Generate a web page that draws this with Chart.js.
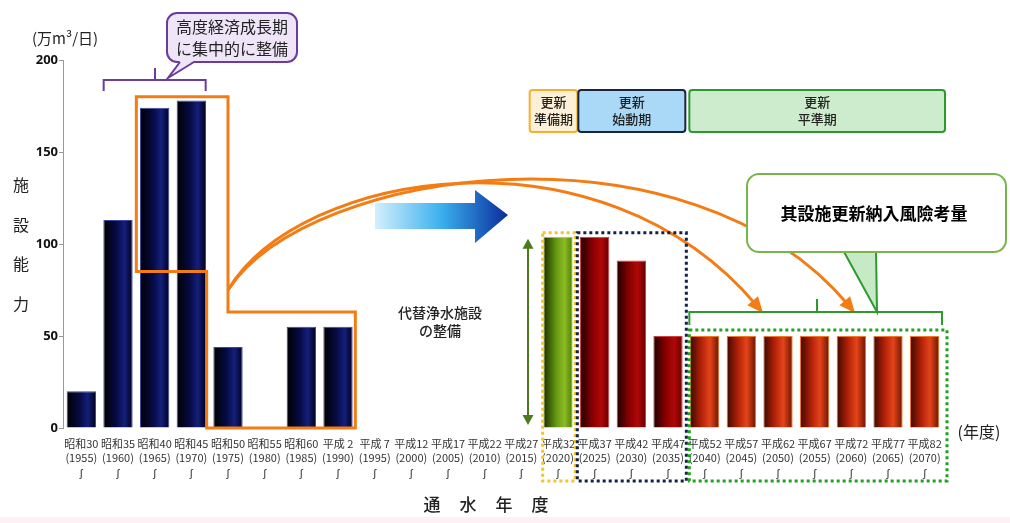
<!DOCTYPE html>
<html lang="ja">
<head>
<meta charset="utf-8">
<script src="https://cdn.jsdelivr.net/npm/chart.js@4/dist/chart.umd.min.js"></script>
<style>
  html, body { margin: 0; padding: 0; background: #ffffff; }
  #wrap { width: 1010px; height: 523px; position: relative; }
</style>
</head>
<body>
<div id="wrap"><canvas id="c" width="1010" height="523"></canvas></div>
<script>
// Era labels and calendar years for each five-year step
const eraLabels = ['昭和30','昭和35','昭和40','昭和45','昭和50','昭和55','昭和60','平成 2',
  '平成 7','平成12','平成17','平成22','平成27','平成32','平成37','平成42','平成47',
  '平成52','平成57','平成62','平成67','平成72','平成77','平成82'];
const yearLabels = ['(1955)','(1960)','(1965)','(1970)','(1975)','(1980)','(1985)','(1990)',
  '(1995)','(2000)','(2005)','(2010)','(2015)','(2020)','(2025)','(2030)','(2035)',
  '(2040)','(2045)','(2050)','(2055)','(2060)','(2065)','(2070)'];
// Facility capacity (万m³/日); null where nothing was built / renewed
const capacity = [20, 113, 174, 178, 44, null, 55, 55,
  null, null, null, null, null, 104, 104, 91, 50,
  50, 50, 50, 50, 50, 50, 50];
// Period groups: 0 = original construction, 1 = preparation, 2 = start-up, 3 = levelled renewal
const period = [0,0,0,0,0,0,0,0, 0,0,0,0,0, 1, 2,2,2, 3,3,3,3,3,3,3];
const yTicks = [0, 50, 100, 150, 200];

const tickLabels = eraLabels.map((e, i) => [e, yearLabels[i], 'ʃ']);

const palettes = {
  0: [[0, '#000000'], [0.45, '#060b44'], [0.72, '#141f7c'], [1, '#00001a']],
  1: [[0, '#1a3000'], [0.45, '#669a12'], [0.72, '#8cbc22'], [1, '#4e7c0c']],
  2: [[0, '#1a0000'], [0.42, '#880000'], [0.72, '#b00808'], [1, '#650000']],
  3: [[0, '#3c0800'], [0.38, '#b02008'], [0.68, '#e4441a'], [1, '#6a1400']]
};

function barFill(ctx) {
  const chart = ctx.chart;
  const xs = chart.scales && chart.scales.x;
  const pal = palettes[period[ctx.dataIndex]] || palettes[0];
  if (ctx.type !== 'data' || !xs || !(xs.width > 0)) return pal[1][1];
  const cx = xs.getPixelForValue(ctx.dataIndex);
  const half = (xs.width / eraLabels.length) * 0.8 / 2;
  if (!isFinite(cx) || !isFinite(half)) return pal[1][1];
  const g = chart.ctx.createLinearGradient(cx - half, 0, cx + half, 0);
  pal.forEach(s => g.addColorStop(s[0], s[1]));
  return g;
}
function barEdge(ctx) {
  const p = period[ctx.dataIndex];
  return p === 3 ? '#f07a22' : (p === 0 ? '#3a4aa0' : (p === 1 ? '#a8d040' : '#d04040'));
}

function roundRect(c, x, y, w, h, r) {
  c.beginPath();
  c.moveTo(x + r, y);
  c.arcTo(x + w, y, x + w, y + h, r);
  c.arcTo(x + w, y + h, x, y + h, r);
  c.arcTo(x, y + h, x, y, r);
  c.arcTo(x, y, x + w, y, r);
  c.closePath();
}

function arrowHead(c, x, y, fromX, fromY, len, wid, color) {
  const a = Math.atan2(y - fromY, x - fromX);
  c.save();
  c.translate(x, y);
  c.rotate(a);
  c.beginPath();
  c.moveTo(0, 0);
  c.lineTo(-len, -wid / 2);
  c.lineTo(-len, wid / 2);
  c.closePath();
  c.fillStyle = color;
  c.fill();
  c.restore();
}

// curved arrow: cubic from p0 to p3, head placed at p3 along the end tangent
function curvedArrow(c, p0, p1, p2, p3, color) {
  const a = Math.atan2(p3[1] - p2[1], p3[0] - p2[0]);
  const ex = p3[0] - Math.cos(a) * 10, ey = p3[1] - Math.sin(a) * 10;
  c.strokeStyle = color;
  c.beginPath();
  c.moveTo(p0[0], p0[1]);
  c.bezierCurveTo(p1[0], p1[1], p2[0], p2[1], ex, ey);
  c.stroke();
  arrowHead(c, p3[0], p3[1], p2[0], p2[1], 16, 14, color);
}

const overlay = {
  id: 'overlay',
  beforeDraw(chart) {
    const c = chart.ctx;
    c.save();
    c.fillStyle = '#ffffff';
    c.fillRect(0, 0, chart.width, chart.height);
    c.fillStyle = '#fdf1f6';
    c.fillRect(0, 517, chart.width, 6);
    c.restore();
  },
  afterDraw(chart) {
    const c = chart.ctx;
    const xs = chart.scales.x, ys = chart.scales.y;
    const step = xs.width / eraLabels.length;
    const left = i => xs.getPixelForValue(i) - step / 2;
    const right = i => xs.getPixelForValue(i) + step / 2;
    const jp = '"Noto Sans CJK JP", sans-serif';
    c.save();

    // unit and vertical axis caption
    c.fillStyle = '#222';
    c.font = '15px ' + jp;
    c.textAlign = 'left';
    c.textBaseline = 'middle';
    c.fillText('(万m³/日)', 32, 38);
    c.font = '16px ' + jp;
    c.textAlign = 'center';
    ['施', '設', '能', '力'].forEach((ch, k) => c.fillText(ch, 21, 185 + k * 39.5));
    // horizontal axis caption
    c.font = '500 17px ' + jp;
    ['通', '水', '年', '度'].forEach((ch, k) => c.fillText(ch, 432 + k * 36, 505));
    c.font = '16px ' + jp;
    c.fillText('(年度)', 979, 432);

    // purple callout and bracket over the high-growth period
    c.strokeStyle = '#6a3c9c';
    c.lineWidth = 2;
    c.beginPath();
    c.moveTo(left(1) + 4, 91); c.lineTo(left(1) + 4, 80);
    c.lineTo(right(3) - 4, 80); c.lineTo(right(3) - 4, 91);
    c.moveTo(155, 80); c.lineTo(155, 68);
    c.stroke();
    roundRect(c, 167, 13, 130, 49, 10);
    c.fillStyle = '#eee6f8';
    c.fill();
    c.stroke();
    c.beginPath();
    c.moveTo(180, 61); c.lineTo(168, 78); c.lineTo(194, 61);
    c.closePath();
    c.fill();
    c.beginPath();
    c.moveTo(180, 62); c.lineTo(168, 78); c.lineTo(194, 62);
    c.stroke();
    c.fillStyle = '#222';
    c.font = '16px ' + jp;
    c.fillText('高度経済成長期', 232, 27);
    c.fillText('に集中的に整備', 232, 49);

    // orange outline around the concentrated construction
    const o1 = ys.getPixelForValue(180), o2 = ys.getPixelForValue(85);
    const o3 = ys.getPixelForValue(63), base = ys.getPixelForValue(0);
    const xa = left(2), xb = left(4) - 3, xc = xs.getPixelForValue(4), xd = right(7) - 1;
    c.strokeStyle = '#f47c14';
    c.lineWidth = 3;
    c.lineJoin = 'miter';
    c.beginPath();
    c.moveTo(xa, o1); c.lineTo(xc, o1); c.lineTo(xc, o3); c.lineTo(xd, o3);
    c.lineTo(xd, base); c.lineTo(xb, base); c.lineTo(xb, o2); c.lineTo(xa, o2);
    c.closePath();
    c.stroke();

    // orange arcs carrying the old capacity into the renewal period
    const start = [xc, 290];
    curvedArrow(c, start, [300, 170], [600, 120], [763, 313], '#f47c14');
    curvedArrow(c, start, [310, 165], [690, 115], [855, 313], '#f47c14');

    // blue transition arrow
    const bg = c.createLinearGradient(375, 0, 508, 0);
    bg.addColorStop(0, '#d4effd');
    bg.addColorStop(0.5, '#3ab0ee');
    bg.addColorStop(1, '#0a2c9c');
    c.fillStyle = bg;
    c.beginPath();
    c.moveTo(375, 203); c.lineTo(475, 203); c.lineTo(475, 190); c.lineTo(508, 215);
    c.lineTo(475, 243); c.lineTo(475, 229); c.lineTo(375, 229);
    c.closePath();
    c.fill();

    // replacement facility note and double arrow
    c.fillStyle = '#222';
    c.font = '500 14px ' + jp;
    c.fillText('代替浄水施設', 440, 313);
    c.fillText('の整備', 440, 331);
    const ga = ys.getPixelForValue(104) + 2;
    c.strokeStyle = '#4c7a1c';
    c.lineWidth = 2;
    c.beginPath();
    c.moveTo(528, ga + 8); c.lineTo(528, base - 8);
    c.stroke();
    arrowHead(c, 528, ga, 528, ga + 10, 10, 11, '#4c7a1c');
    arrowHead(c, 528, base - 3, 528, base - 13, 10, 11, '#4c7a1c');

    // dotted period frames around bars and their labels
    c.lineWidth = 3;
    c.setLineDash([3, 3]);
    const top1 = ys.getPixelForValue(104) - 4;
    c.strokeStyle = '#f5c230';
    c.strokeRect(left(13) + 3, top1, step - 4, 481 - top1);
    c.strokeStyle = '#12204a';
    c.strokeRect(left(14) + 1, top1, right(16) - left(14) - 1, 481 - top1);
    c.strokeStyle = '#22a022';
    const top3 = ys.getPixelForValue(50) - 6;
    c.strokeRect(left(17) + 3, top3, right(23) - left(17) + 1, 481 - top3);
    c.setLineDash([]);

    // phase header boxes
    const heads = [
      { x0: left(13) - 10, x1: right(13) + 1, fill: '#fdf0d6', edge: '#f5b030', t: ['更新', '準備期'] },
      { x0: left(14) + 2, x1: right(16) - 1, fill: '#aad9f8', edge: '#17263e', t: ['更新', '始動期'] },
      { x0: right(16) + 3, x1: right(23) + 2, fill: '#cdeccd', edge: '#2a9a2a', t: ['更新', '平準期'] }
    ];
    c.lineWidth = 2;
    c.font = '500 13px ' + jp;
    heads.forEach(h => {
      roundRect(c, h.x0, 90, h.x1 - h.x0, 42, 3);
      c.fillStyle = h.fill;
      c.fill();
      c.strokeStyle = h.edge;
      c.stroke();
      c.fillStyle = '#222';
      c.fillText(h.t[0], (h.x0 + h.x1) / 2, 102);
      c.fillText(h.t[1], (h.x0 + h.x1) / 2, 119);
    });

    // green bracket and risk callout
    c.strokeStyle = '#2e9a2e';
    c.lineWidth = 2;
    c.beginPath();
    c.moveTo(left(17) + 3, 325); c.lineTo(left(17) + 3, 312);
    c.lineTo(right(23) - 1, 312); c.lineTo(right(23) - 1, 325);
    c.moveTo(817, 312); c.lineTo(817, 299);
    c.stroke();
    c.beginPath();
    c.moveTo(843, 250); c.lineTo(877, 312); c.lineTo(876, 250);
    c.closePath();
    c.fillStyle = '#c6eac6';
    c.fill();
    c.stroke();
    roundRect(c, 747, 174, 259, 78, 12);
    c.fillStyle = '#ffffff';
    c.fill();
    c.strokeStyle = '#78b64a';
    c.stroke();
    c.fillStyle = '#000';
    c.font = 'bold 17px "Noto Sans CJK TC", sans-serif';
    c.fillText('其設施更新納入風險考量', 874, 214);

    c.restore();
  }
};

new Chart(document.getElementById('c'), {
  type: 'bar',
  data: {
    labels: tickLabels,
    datasets: [{
      data: capacity,
      backgroundColor: barFill,
      borderColor: barEdge,
      borderWidth: 1,
      categoryPercentage: 1,
      barPercentage: 0.8
    }]
  },
  options: {
    responsive: false,
    animation: false,
    events: [],
    layout: { padding: { top: 60, right: 67, left: 0, bottom: 0 } },
    plugins: { legend: { display: false }, tooltip: { enabled: false } },
    scales: {
      x: {
        grid: { display: false },
        border: { display: false },
        afterFit(s) { s.height = 95; },
        ticks: {
          autoSkip: false, maxRotation: 0, minRotation: 0, padding: 0,
          color: '#333',
          font: { family: '"Noto Sans CJK JP", sans-serif', size: 11, lineHeight: 1.35 }
        }
      },
      y: {
        min: 0, max: 200,
        afterFit(s) { s.width = 63; },
        afterBuildTicks(s) { s.ticks = yTicks.map(v => ({ value: v })); },
        grid: { drawOnChartArea: false, tickLength: 4, color: '#999' },
        border: { color: '#999', width: 1 },
        ticks: {
          padding: 1, color: '#111',
          font: { family: '"Noto Sans", sans-serif', size: 13, weight: 'bold' }
        }
      }
    }
  },
  plugins: [overlay]
});
</script>
</body>
</html>
